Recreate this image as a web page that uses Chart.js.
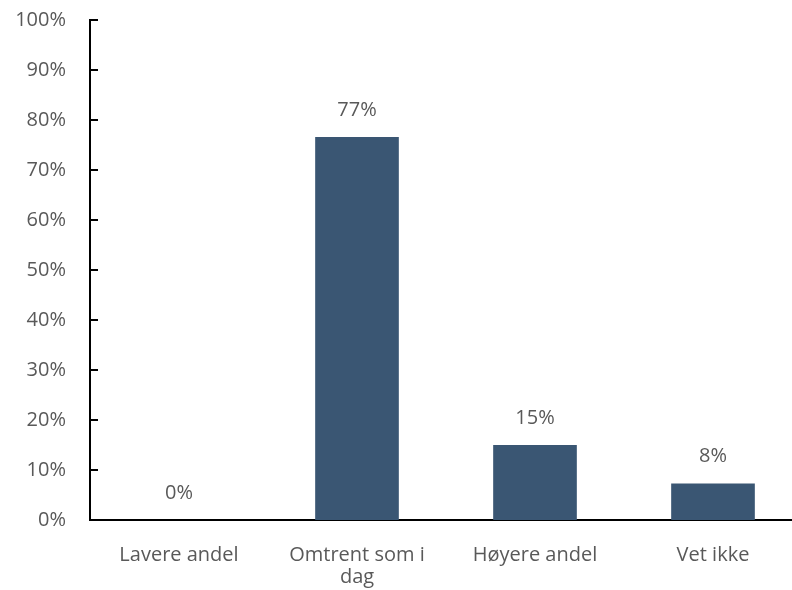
<!DOCTYPE html>
<html>
<head>
<meta charset="utf-8">
<script src="https://cdn.jsdelivr.net/npm/chart.js@4"></script>
<style>
  html, body { margin: 0; padding: 0; overflow: hidden; background: #fff; }
  #wrap { width: 802px; height: 590px; overflow: hidden; }
  #Bars { display: block; margin-top: -16px; }
</style>
</head>
<body>
<div id="wrap"><canvas id="Bars" width="802" height="628"></canvas></div>
<script>
var categories = ['Lavere andel', ['Omtrent som i', 'dag'], 'Høyere andel', 'Vet ikke'];
var values = [0, 76.6, 15, 7.3];
var valueLabels = ['0%', '77%', '15%', '8%'];
var yTicks = [0, 10, 20, 30, 40, 50, 60, 70, 80, 90, 100];

var textColor = '#595959';
var fontFamily = "'Open Sans', 'Noto Sans', sans-serif";

// small inside tick marks on the y axis, like the original
var innerTicks = {
  id: 'innerTicks',
  afterDraw: function (chart) {
    var c = chart.ctx, y = chart.scales.y, x0 = chart.chartArea.left;
    c.save();
    c.strokeStyle = '#000';
    c.lineWidth = 2;
    yTicks.forEach(function (t) {
      var py = Math.round(y.getPixelForValue(t));
      c.beginPath();
      c.moveTo(x0, py);
      c.lineTo(x0 + 8, py);
      c.stroke();
    });
    c.restore();
  }
};

var barLabels = {
  id: 'barLabels',
  afterDatasetsDraw: function (chart) {
    var c = chart.ctx;
    var meta = chart.getDatasetMeta(0);
    c.save();
    c.fillStyle = textColor;
    c.font = '20px ' + fontFamily;
    c.textAlign = 'center';
    c.textBaseline = 'middle';
    meta.data.forEach(function (bar, i) {
      c.fillText(valueLabels[i], bar.x, bar.y - 27);
    });
    c.restore();
  }
};

var bars = new Chart(document.getElementById('Bars').getContext('2d'), {
  type: 'bar',
  data: {
    labels: categories,
    datasets: [{
      data: values,
      backgroundColor: '#3a5673',
      borderWidth: 0,
      barPercentage: 0.47,
      categoryPercentage: 1
    }]
  },
  options: {
    responsive: false,
    animation: false,
    layout: { padding: { top: 8, right: 0, left: 0, bottom: 0 } },
    plugins: {
      legend: { display: false },
      tooltip: { enabled: false }
    },
    scales: {
      x: {
        grid: { display: false, drawTicks: false },
        border: { display: true, color: '#000', width: 2 },
        ticks: {
          color: textColor,
          font: { family: fontFamily, size: 20, lineHeight: 1.1 },
          padding: 24,
          maxRotation: 0,
          autoSkip: false
        }
      },
      y: {
        min: 0,
        max: 100,
        afterBuildTicks: function (axis) {
          axis.ticks = yTicks.map(function (v) { return { value: v }; });
        },
        afterFit: function (axis) { axis.width = 90; },
        grid: { display: false, drawTicks: false },
        border: { display: true, color: '#000', width: 2 },
        ticks: {
          color: textColor,
          font: { family: fontFamily, size: 20 },
          padding: 24,
          callback: function (v) { return v + '%'; }
        }
      }
    }
  },
  plugins: [innerTicks, barLabels]
});
</script>
</body>
</html>
